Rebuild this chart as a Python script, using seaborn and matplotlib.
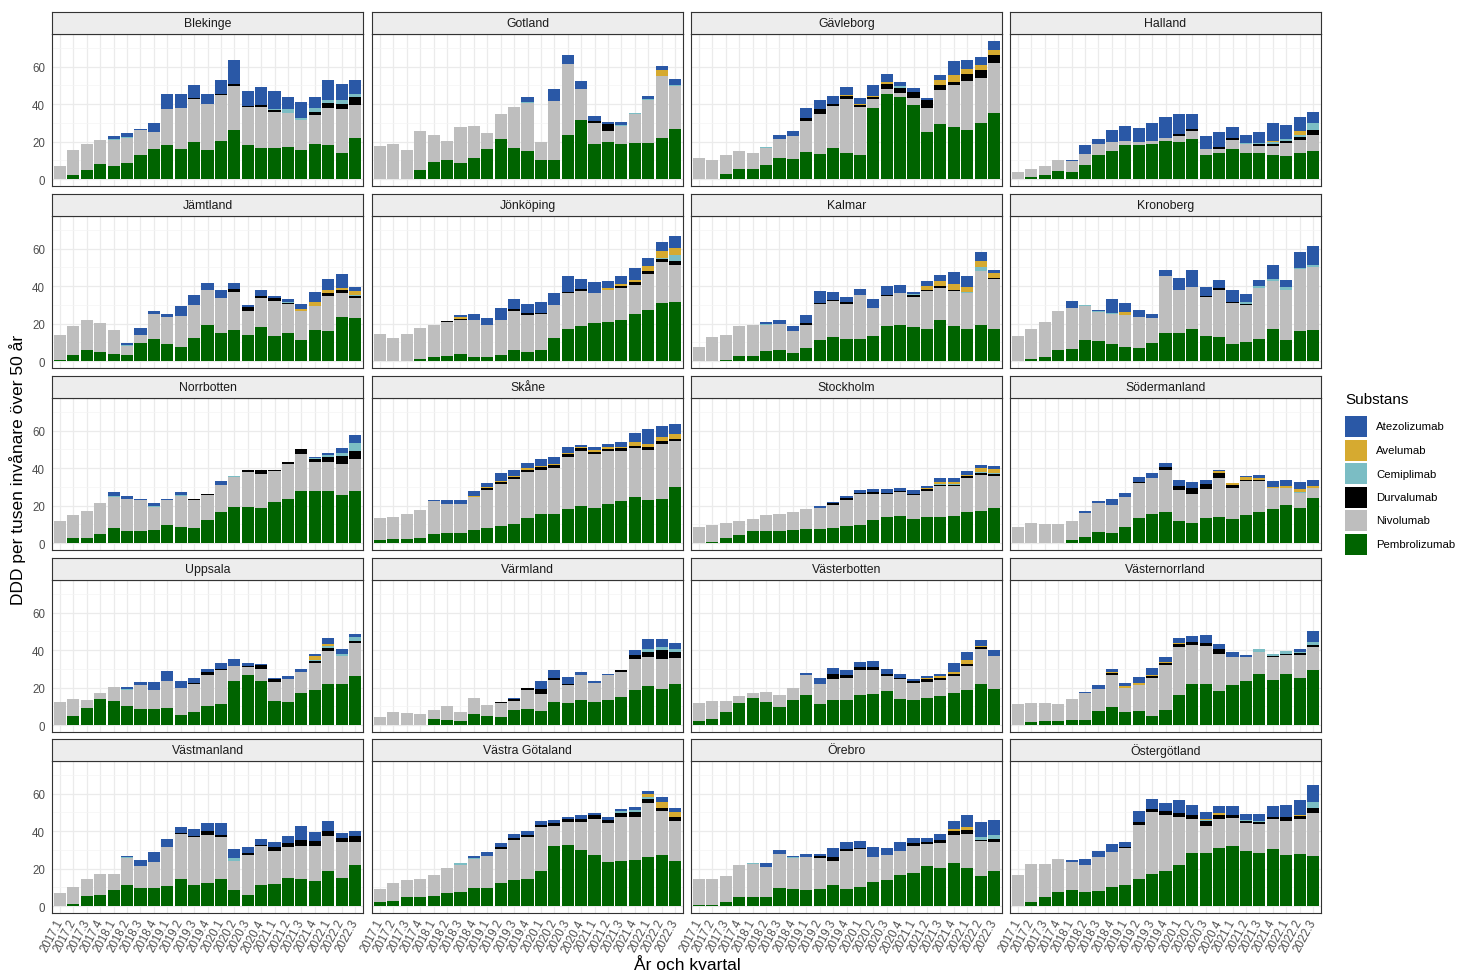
import numpy as np
import pandas as pd
import matplotlib
matplotlib.use("Agg")
import matplotlib.pyplot as plt
from matplotlib.patches import Rectangle
import seaborn as sns

# ---------------------------------------------------------------------------
# Data: DDD per 1000 inhabitants aged 50+, per quarter, region and substance
# ---------------------------------------------------------------------------
quarters = ["2017.1", "2017.2", "2017.3", "2017.4",
            "2018.1", "2018.2", "2018.3", "2018.4",
            "2019.1", "2019.2", "2019.3", "2019.4",
            "2020.1", "2020.2", "2020.3", "2020.4",
            "2021.1", "2021.2", "2021.3", "2021.4",
            "2022.1", "2022.2", "2022.3"]

regions = ["Blekinge", "Gotland", "Gävleborg", "Halland",
           "Jämtland", "Jönköping", "Kalmar", "Kronoberg",
           "Norrbotten", "Skåne", "Stockholm", "Södermanland",
           "Uppsala", "Värmland", "Västerbotten", "Västernorrland",
           "Västmanland", "Västra Götaland", "Örebro", "Östergötland"]

substances = ["Atezolizumab", "Avelumab", "Cemiplimab",
              "Durvalumab", "Nivolumab", "Pembrolizumab"]

colors = {"Atezolizumab": "#2A58A6", "Avelumab": "#D6AA30",
          "Cemiplimab": "#7BBDC4", "Durvalumab": "#000000",
          "Nivolumab": "#BEBEBE", "Pembrolizumab": "#006400"}

pembrolizumab = {
    "Blekinge": [0, 2, 5, 8, 7, 8.4, 13, 16, 18, 16, 19.7, 15.4, 20.6, 26, 18, 16.7, 16.7, 17, 15.4, 18.6, 18.3, 14, 21.7],
    "Gotland": [0, 0, 0, 5, 9.3, 10, 8.8, 11.1, 16, 21.5, 16.7, 15.2, 10.2, 10.2, 23.5, 31.4, 18.5, 20, 18.6, 19.2, 19.2, 22, 26.7],
    "Gävleborg": [0, 0.3, 2.9, 5.6, 5.6, 7.7, 11.3, 10.8, 14.7, 13.6, 16.7, 13.8, 13, 38, 45.7, 44, 39.4, 25.3, 29.2, 27.8, 26.2, 30, 35.3],
    "Halland": [0, 1.2, 2.3, 4.1, 4, 7.5, 13, 15, 18, 18.3, 18.8, 20.4, 19.7, 21.5, 13, 13.8, 16.1, 13.8, 14.2, 12.9, 12.4, 14.2, 15],
    "Jämtland": [0.7, 3.4, 6, 4.7, 4, 3, 9.5, 11.6, 9.3, 7.3, 12.5, 19.4, 15, 16.5, 13.8, 18.1, 13.3, 15.2, 11, 16.5, 16.1, 23.8, 23],
    "Jönköping": [0, 0, 0, 1, 2.3, 2.9, 4, 2.3, 2.3, 3.2, 5.9, 5, 5.9, 12.2, 17, 18.8, 20.3, 21, 21.9, 25.1, 27.2, 31, 31.4],
    "Kalmar": [0, 0, 0.7, 2.9, 2.9, 5.2, 6.1, 4.3, 7, 11, 13, 12, 12, 13.3, 18.8, 19.5, 18.1, 17.4, 21.7, 18.5, 17, 19.2, 17],
    "Kronoberg": [0, 1, 2, 5.7, 6.6, 11.3, 10.6, 9, 7.7, 7.2, 9.5, 15.2, 14.9, 17, 13.3, 13, 9.3, 10.4, 11.8, 17, 11.3, 16.1, 16.5],
    "Norrbotten": [0.3, 2.5, 2.5, 4.8, 7.9, 6.6, 6.6, 7, 9.5, 8.6, 7.9, 12.4, 16.5, 19.4, 19.4, 18.9, 21.9, 23.3, 27.8, 27.6, 28, 25.7, 28],
    "Skåne": [1.4, 2, 2, 2.9, 4.7, 5.4, 5.2, 7, 7.9, 9.2, 10.4, 13.5, 15.3, 15.6, 18, 19.7, 18.7, 20.8, 22.3, 24.8, 23.2, 23.7, 29.8],
    "Stockholm": [0, 0.5, 2.5, 4.3, 6.5, 6.5, 6.5, 7, 7.5, 7.7, 8.3, 9.2, 9.5, 12.4, 14.2, 14.7, 13.1, 14.2, 14, 14.4, 16.5, 17.4, 18.5],
    "Södermanland": [0, 0, 0, 0, 1.8, 3, 5.7, 5.2, 8.6, 13.3, 15.3, 16.7, 12, 10.8, 13.6, 14.2, 12.6, 15.1, 16.5, 18, 20.6, 19, 24.2],
    "Uppsala": [0, 4.7, 9, 14.2, 12.7, 10, 8.6, 8.8, 9.3, 5.4, 6.8, 10, 11, 23.3, 26.6, 23.3, 12.9, 12.4, 17, 18.9, 22, 22, 26.4],
    "Värmland": [0, 0, 0, 0.3, 3.2, 2.9, 2.3, 5.9, 5, 4.5, 8.1, 8.6, 7.5, 12.4, 11.7, 13.6, 12.4, 13.6, 14.9, 18.9, 20.8, 19.4, 22],
    "Västerbotten": [2, 3.4, 7.2, 11.8, 14.4, 12.2, 9.5, 13.6, 16.2, 11.5, 13.6, 13.6, 16.3, 16.7, 18, 14.2, 13.5, 14.5, 15.8, 17, 18.5, 22.1, 19.4],
    "Västernorrland": [0, 1.4, 2, 2, 2.7, 2.9, 7.5, 9.5, 7.2, 7.4, 4.8, 8.3, 16.2, 21.7, 21.7, 18, 21.4, 23.5, 27.5, 24.2, 27.5, 25.1, 29.6],
    "Västmanland": [0, 1.3, 5.4, 5.9, 8.4, 11.3, 9.5, 9.5, 10.9, 14.5, 11.3, 12.5, 14.5, 8.6, 5.9, 11.5, 11.8, 15.2, 14.3, 13.4, 18.8, 15.2, 21.9],
    "Västra Götaland": [2.3, 2.7, 4.7, 4.7, 5.4, 6.8, 7.5, 9.5, 9.9, 12.4, 13.8, 14.5, 18.5, 32.3, 32.8, 30.1, 27.4, 23.8, 24.2, 24.6, 26.3, 27.4, 24.2],
    "Örebro": [0.7, 0.7, 2, 4.7, 4.7, 4.7, 9.9, 9.3, 8.4, 9.3, 11.5, 9.3, 10.2, 12.7, 14, 16.7, 17.9, 21.5, 20.6, 22.8, 20.3, 16.1, 18.8],
    "Östergötland": [0, 2.3, 5, 7.5, 8.4, 7.5, 8.1, 10.2, 11.1, 14.3, 17.4, 18.5, 21.7, 28.3, 28.3, 31.2, 31.9, 29.2, 28.3, 30.5, 27.1, 27.8, 26.5],
}

nivolumab = {
    "Blekinge": [7, 13.4, 13.6, 13, 14, 13.6, 13, 9, 19.5, 22, 23.3, 24.6, 24.4, 23.6, 20.4, 22, 19.3, 18.5, 16.1, 15.4, 19.7, 23.5, 18.1],
    "Gotland": [17.7, 18.6, 15.4, 20.6, 14.2, 10.3, 18.8, 17.4, 8.7, 13.1, 22, 25.7, 9.8, 31.4, 38.1, 16.8, 11.5, 5.8, 9.5, 15.6, 22.9, 32.8, 22.8],
    "Gävleborg": [11, 9.9, 9.8, 9.4, 8.2, 9.1, 10.2, 12, 16.1, 21.4, 22.2, 28.8, 25.5, 4.8, 2.5, 2, 4.1, 12.7, 18.3, 22.4, 26.3, 24, 26.7],
    "Halland": [3.6, 4.4, 4.7, 6.1, 5.9, 5.9, 5.6, 5, 2.4, 1.7, 1.6, 1.3, 3.4, 4.1, 3.1, 2.2, 5, 5.2, 3.5, 4.8, 6.8, 6.6, 8.5],
    "Jämtland": [13.1, 15.2, 16, 15.6, 12.5, 5.2, 4.3, 13.3, 14.5, 16.9, 17.2, 18.4, 18.5, 20.4, 12.9, 15.8, 19, 15.1, 15.5, 12.9, 18.5, 12.4, 10.5],
    "Jönköping": [14.3, 12.5, 14.3, 16.6, 17.1, 18.1, 18.2, 19.9, 16.9, 19, 20.8, 19.6, 19, 17.5, 19.4, 18.7, 15.9, 17, 17, 15.6, 19.2, 21.7, 20],
    "Kalmar": [7.7, 12.9, 13.5, 15.9, 16.3, 14.3, 13.9, 11.7, 12.5, 19.3, 19, 18.6, 23.3, 15.2, 16.2, 16.7, 16.3, 20.1, 17.5, 19, 19.6, 29, 26.7],
    "Kronoberg": [13.3, 16.2, 18.8, 21.3, 21.5, 18.1, 15.6, 16.3, 16.7, 16.3, 13.5, 30.5, 23.1, 22.8, 21.1, 24.8, 21.9, 19.5, 27.4, 25.8, 26.7, 33, 33.7],
    "Norrbotten": [11.7, 12.5, 14.7, 16.7, 16.7, 17.1, 16.6, 12.2, 13.7, 16.4, 15.1, 13.1, 14.4, 15.8, 18.6, 18.1, 16.5, 18.7, 19.6, 15.7, 15.3, 16.7, 16.9],
    "Skåne": [11.9, 12.2, 13.4, 14.9, 17.9, 15.6, 15.8, 17.8, 20.6, 22.4, 23.7, 24.5, 23.7, 24.6, 28, 29.5, 28.7, 28.4, 26.9, 25.8, 26.5, 29.1, 24.8],
    "Stockholm": [8.4, 9, 8.1, 7.5, 6.6, 8.4, 8.8, 9.5, 10.6, 11.3, 12.3, 13.8, 16.5, 13.8, 12.2, 12.4, 12.6, 13.8, 16.5, 16.1, 18.1, 19, 17.4],
    "Södermanland": [8.6, 10.8, 10.4, 10.4, 10.2, 13.2, 15.5, 15.4, 16, 19, 19.5, 22.4, 16.2, 15.4, 15.3, 20.8, 17, 18.1, 16.4, 11.3, 9, 7.6, 5.1],
    "Uppsala": [12.4, 9.5, 4.6, 2.8, 7.6, 9, 12.8, 10.2, 14, 14.3, 15.3, 16.6, 18.3, 8.5, 4.5, 6.5, 9.9, 12, 11.4, 14.3, 17.7, 14.8, 17.6],
    "Värmland": [4.5, 7, 6.3, 5.8, 4.8, 7.1, 4.7, 8.5, 5.8, 7.2, 5, 10.4, 9.2, 11.5, 9.7, 13, 10.2, 13, 13.5, 16.3, 15.3, 16.1, 13.7],
    "Västerbotten": [9.7, 9.7, 5.9, 3.5, 2.6, 5.4, 6.5, 6.1, 10.4, 10.6, 10.8, 11.5, 13.3, 12.9, 8.2, 10.2, 8.9, 8.5, 8.1, 9.2, 13.1, 18.5, 17.4],
    "Västernorrland": [11, 10.3, 9.7, 9.1, 11.5, 14, 11.9, 17.1, 12.5, 13.8, 20.3, 23.7, 25.3, 21.2, 20.5, 20.2, 15, 12.9, 11.3, 11.9, 10, 12.6, 12.2],
    "Västmanland": [7.2, 9.1, 8.9, 11.1, 8.6, 14.3, 11.8, 14, 20.5, 24, 25.4, 25.7, 22.6, 15.6, 21.5, 20.4, 17.8, 16.2, 18, 18.9, 18.8, 18.8, 12.1],
    "Västra Götaland": [6.7, 9.7, 9.5, 9.8, 11.1, 13.3, 14.4, 15.9, 17, 18.2, 21.5, 22.6, 24, 10.7, 12.2, 14.7, 19.2, 20.6, 23.3, 22.9, 28.7, 23.3, 21.5],
    "Örebro": [13.6, 13.6, 13.9, 17, 17.7, 16.3, 17.9, 16.3, 17.9, 16.3, 12.7, 20.3, 20.3, 13.6, 13.4, 12.9, 14.4, 11.7, 12.9, 15.4, 18.2, 18.5, 15.4],
    "Östergötland": [16.7, 20.1, 17.4, 17.9, 15.4, 14.5, 18.2, 18.8, 19.9, 29.1, 32.6, 30.1, 25.8, 18.3, 14.7, 15.2, 15.2, 15.1, 15.4, 15.9, 18.1, 18.8, 23.1],
}

durvalumab = {
    "Blekinge": [0, 0, 0, 0, 0, 0, 0, 0, 0, 0, 0.5, 0, 0.6, 1, 0.9, 0.9, 1, 0, 0, 2, 2.5, 2.5, 4],
    "Gotland": [0, 0, 0, 0, 0, 0, 0, 0, 0, 0, 0, 0, 0, 0, 0, 0, 0.9, 3.4, 0, 0, 0, 0, 0],
    "Gävleborg": [0, 0, 0, 0, 0, 0, 0, 0, 1.8, 2.3, 1.4, 1.6, 0.9, 0.9, 2.5, 2.7, 3.2, 4, 3, 1.6, 3.8, 4, 4.5],
    "Halland": [0, 0, 0, 0, 0, 0, 0, 0, 0, 0, 0, 0.5, 1, 1.2, 0, 0.9, 0.7, 0, 1, 1.3, 1.4, 1.8, 2.9],
    "Jämtland": [0, 0, 0, 0, 0, 0, 0, 0, 0, 0, 0, 0, 0, 1.8, 2.1, 0.9, 1.3, 0.5, 0, 0, 1.8, 2, 1.2],
    "Jönköping": [0, 0, 0, 0, 0, 0.4, 0.4, 0, 0, 0, 0.9, 1.2, 0.7, 0.5, 0.7, 0.9, 0, 0, 1, 1.4, 1.8, 1.8, 2.3],
    "Kalmar": [0, 0, 0, 0, 0, 0, 0, 0, 0.7, 0.9, 0.7, 0.9, 0, 0, 0.5, 0, 0.9, 0.7, 0.9, 0.7, 0, 0, 0.5],
    "Kronoberg": [0, 0, 0, 0, 0, 0, 0, 0, 0, 0, 0, 0, 0, 0, 0.6, 1, 0.5, 0.7, 0, 0, 0, 0, 0],
    "Norrbotten": [0, 0, 0, 0, 0, 0, 0, 0, 0, 0, 0.4, 0.9, 0, 0, 1.3, 1.8, 0.7, 1.4, 2.7, 1.4, 2.9, 4.1, 4.5],
    "Skåne": [0, 0, 0, 0, 0, 0, 0, 0, 0.7, 1, 1, 1.2, 1.4, 1.4, 1.4, 1.4, 1.4, 1.2, 1.4, 1.4, 1.4, 1.6, 1.2],
    "Stockholm": [0, 0, 0, 0, 0, 0, 0, 0, 0, 0, 0.7, 1.2, 0.7, 0.9, 0.6, 0.6, 0.7, 0.7, 0.5, 0.5, 1, 1.2, 1.2],
    "Södermanland": [0, 0, 0, 0, 0, 0, 0, 0, 0, 0.5, 0, 1.3, 2.3, 3, 2.9, 2.3, 1.4, 0.7, 0.9, 0, 0, 0, 0],
    "Uppsala": [0, 0, 0, 0, 0, 0, 0, 0, 0, 0, 0.5, 1.8, 0.9, 0, 0.5, 2.2, 1.8, 0, 0, 1.2, 1.6, 0, 0.9],
    "Värmland": [0, 0, 0, 0, 0, 0, 0, 0, 0, 0.4, 1.1, 1, 2.5, 1.4, 0.7, 0, 0, 0.3, 0.9, 2, 3.2, 4.5, 3.2],
    "Västerbotten": [0, 0, 0, 0, 0, 0, 0, 0, 0, 0, 2.7, 1.8, 1.4, 1.4, 1.3, 0.9, 1.4, 1.4, 1.1, 0.9, 0.9, 1.3, 0],
    "Västernorrland": [0, 0, 0, 0, 0, 0, 0, 1, 0, 0, 0.9, 0.9, 1.8, 1.3, 1.4, 2.2, 0, 0, 0, 0.7, 0.7, 0.9, 0.9],
    "Västmanland": [0, 0, 0, 0, 0, 0, 0, 0, 0, 0.5, 0.7, 1.8, 1, 0, 0.7, 0.7, 2.2, 2.5, 3, 2.2, 2.7, 2.3, 3.2],
    "Västra Götaland": [0, 0, 0, 0, 0, 0, 0, 0, 0, 0.7, 1, 1, 1, 1.3, 1.4, 1.8, 1.8, 1.6, 2.3, 2.7, 2, 1.8, 1.8],
    "Örebro": [0, 0, 0, 0, 0, 0, 0, 0, 0, 0.9, 1.8, 0.9, 0.7, 0, 0, 0, 1.4, 1, 2, 1.8, 2.3, 0.9, 1.6],
    "Östergötland": [0, 0, 0, 0, 0, 0, 0, 0, 0.7, 1.4, 2, 2.2, 2.2, 2.2, 2.7, 2.3, 1.6, 1.4, 1.1, 1.1, 2.2, 1.4, 3],
}

cemiplimab = {
    "Blekinge": [0, 0, 0, 0, 0.5, 0.3, 0, 0, 0, 0, 0, 0, 0, 0, 0, 0, 0.5, 1.8, 1, 1.8, 1.8, 2, 1.5],
    "Gotland": [0, 0, 0, 0, 0, 0, 0, 0, 0, 0, 0, 0.3, 0, 0, 0, 0, 0, 0, 1, 0.6, 0.7, 0.5, 1],
    "Gävleborg": [0, 0, 0, 0, 0, 0.4, 0, 0, 0, 0, 0, 0, 0, 0, 0, 0.9, 0, 0, 0, 0, 0, 0, 0],
    "Halland": [0, 0, 0, 0, 0, 0, 0, 0, 0, 0, 0, 0, 0, 0, 0, 0, 0, 0.5, 0.7, 0.9, 0.9, 0.7, 3.6],
    "Jämtland": [0, 0, 0, 0, 0, 0.5, 0, 0, 0, 0, 0, 0, 0, 0, 0, 0, 0, 0.5, 0, 0, 0, 0, 0.5],
    "Jönköping": [0, 0, 0, 0, 0, 0, 0, 0, 0, 0, 0, 0, 0, 0, 0, 0, 0, 0, 0, 0, 0, 0.5, 2.9],
    "Kalmar": [0, 0, 0, 0, 0, 0.4, 0, 0, 0, 0, 0, 0, 0, 0, 0, 0, 0.5, 0, 0, 0, 0.5, 2.2, 0.4],
    "Kronoberg": [0, 0, 0, 0, 0.5, 0.4, 0.3, 0.5, 0, 0, 0, 0, 0, 0, 0, 0, 0, 1.2, 0.9, 0.9, 1.6, 0.5, 0.9],
    "Norrbotten": [0, 0, 0, 0, 0.5, 0, 0, 0.7, 0, 0.9, 0, 0, 0, 0.4, 0, 0, 0, 0, 0, 0.5, 1, 1.8, 4],
    "Stockholm": [0, 0, 0, 0, 0, 0, 0, 0, 0, 0, 0, 0, 0, 0, 0, 0, 0, 0, 0.3, 0.3, 0, 0.5, 0.5],
    "Södermanland": [0, 0, 0, 0, 0, 0, 0, 0, 0, 0, 0, 0, 0, 0, 0, 0, 0, 0, 0, 0, 0, 0.5, 0],
    "Uppsala": [0, 0, 0, 0, 0, 0.3, 0, 0, 0, 0, 0, 0, 0, 0, 0, 0, 0, 0, 0, 0.4, 0.7, 1.4, 2],
    "Värmland": [0, 0, 0, 0, 0, 0, 0, 0, 0, 0, 0, 0, 0, 0, 0, 0, 0, 0, 0, 0, 1.2, 1.8, 1.6],
    "Västerbotten": [0, 0, 0, 0, 0, 0.3, 0.3, 0.3, 0, 0, 0, 0, 0, 0, 0, 0, 0, 0, 0, 0, 0, 0, 0],
    "Västernorrland": [0, 0, 0, 0, 0, 0, 0, 0, 0, 0, 0, 0, 0, 0, 0, 0, 0, 0, 2, 1.4, 1.2, 0.5, 1.8],
    "Västmanland": [0, 0, 0, 0, 0, 0.4, 0, 0.3, 0, 0, 0, 0, 0, 1.4, 0, 0, 0, 0, 0, 0, 0, 0, 0],
    "Västra Götaland": [0, 0, 0, 0, 0, 0.4, 0.9, 0.5, 0, 0, 0, 0, 0, 0, 0, 0, 0, 0, 0.9, 0.9, 1.2, 0, 0],
    "Örebro": [0, 0, 0, 0, 0.4, 0, 0, 0.7, 0, 0, 0, 0, 0, 0, 0, 0, 0, 0, 0, 0, 0, 1.2, 2.3],
    "Östergötland": [0, 0, 0, 0, 0, 0, 0, 0, 0, 0, 0, 0, 0, 0, 0.5, 0, 0, 0.5, 0.5, 0, 0, 0, 2.9],
}

avelumab = {
    "Gotland": [0, 0, 0, 0, 0, 0, 0, 0, 0, 0, 0, 0, 0, 0, 0, 0, 0, 0, 0, 0, 0, 3.2, 0],
    "Gävleborg": [0, 0, 0, 0, 0, 0, 0, 0, 0, 0, 0, 0.7, 0.7, 0.9, 1, 0, 0, 0.4, 2.3, 3.6, 2.5, 2.7, 2.5],
    "Halland": [0, 0, 0, 0, 0, 0, 0, 0, 0, 0, 0, 0, 0, 0, 0, 0, 0, 0, 0, 0.5, 0, 2.3, 0],
    "Jämtland": [0, 0, 0, 0, 0, 0, 0, 0, 0, 0, 0, 0, 0, 0, 0, 0, 0, 0.5, 1.5, 2.2, 1.8, 1, 2.3],
    "Jönköping": [0, 0, 0, 0, 0, 0, 0.9, 0, 0, 0, 0, 0, 0, 0, 0, 0, 0, 1, 1.4, 1, 2.5, 3.8, 3.8],
    "Kalmar": [0, 0, 0, 0, 0, 0, 0, 0, 0, 0, 0, 0, 0, 0, 0, 0, 0, 2, 2.7, 3.2, 2.7, 2.9, 2.2],
    "Kronoberg": [0, 0, 0, 0, 0, 0, 0, 0, 1.8, 0, 0, 0, 0, 0, 0, 0, 0, 0, 0, 0, 0, 0, 0],
    "Skåne": [0, 0, 0, 0, 0, 0, 0, 0.5, 0.5, 0.5, 0.7, 0.7, 0.9, 0.9, 0.9, 0.7, 0.7, 0.7, 0.9, 1.8, 1.8, 2.3, 2.7],
    "Stockholm": [0, 0, 0, 0, 0, 0, 0, 0, 0, 0, 0, 0, 0, 0, 0, 0, 0, 0.7, 1.2, 1.2, 0.7, 2, 2],
    "Södermanland": [0, 0, 0, 0, 0, 0, 0, 0, 0, 0, 0, 0, 0, 0, 0, 1.4, 1, 1.4, 1.2, 0.4, 0.9, 1.8, 1.2],
    "Uppsala": [0, 0, 0, 0, 0, 0, 0, 0, 0, 0, 0, 0, 0, 0, 0, 0, 0, 0, 0, 2, 1.4, 0, 0],
    "Västerbotten": [0, 0, 0, 0, 0, 0, 0, 0, 0, 0, 0, 0, 0, 0, 0, 0, 0, 0.9, 1.2, 1.2, 2.2, 0.5, 0],
    "Västernorrland": [0, 0, 0, 0, 0, 0, 0, 1, 1, 1.4, 0.9, 0.9, 0.7, 0, 0.5, 0, 0, 0, 0, 0, 0, 0, 0],
    "Västra Götaland": [0, 0, 0, 0, 0, 0, 0, 0, 0, 0, 0, 0, 0, 0, 0, 0, 0, 0, 0, 0, 1.5, 3, 2.7],
    "Örebro": [0, 0, 0, 0, 0, 0, 0, 0, 0, 0, 0, 0, 0, 0, 0, 0, 0, 0, 0, 1.4, 1.2, 0, 0],
    "Östergötland": [0, 0, 0, 0, 0, 0, 0, 0, 0, 0, 0, 0, 0, 0, 0.5, 0.9, 0, 0, 0, 0, 0, 0.5, 0],
}

atezolizumab = {
    "Blekinge": [0, 0, 0, 0, 1.5, 2.1, 1, 5, 8, 7.5, 6.5, 5.5, 7.1, 12.8, 7.7, 9.4, 9.5, 6.7, 8.5, 6.2, 10.4, 8.7, 7.7],
    "Gotland": [0, 0, 0, 0, 0, 0, 0, 0, 0, 0, 0, 2.5, 0, 6.4, 4.7, 4.3, 3, 1.1, 1.4, 0, 1.5, 2.1, 3.1],
    "Gävleborg": [0, 0, 0, 0, 0, 0, 2.2, 3, 5.4, 5.2, 4.3, 4.1, 3.1, 5.9, 4.3, 2.2, 1.9, 0.8, 2.6, 7.6, 4.6, 4.7, 4.8],
    "Halland": [0, 0, 0, 0, 0.5, 4.9, 2.9, 6.3, 8.1, 7.2, 9.3, 11.1, 10.7, 7.8, 6.9, 8.1, 6, 4, 5.6, 9.6, 7.5, 7.4, 5.7],
    "Jämtland": [0, 0, 0, 0, 0, 0.8, 3.8, 2.1, 1.6, 5, 5.6, 3.8, 4.5, 3.1, 0.9, 3.2, 1.4, 1.4, 2.3, 5.4, 5.8, 7.2, 2.3],
    "Jönköping": [0, 0, 0, 0, 0, 0, 0.9, 3.2, 3.8, 5.9, 5.4, 4.8, 5.8, 6, 8.6, 5.6, 6.1, 3.6, 4, 6.7, 4.3, 4.6, 6.4],
    "Kalmar": [0, 0, 0, 0, 0, 1.2, 1.7, 2.8, 4.2, 6.3, 4, 2.7, 3.1, 4.5, 4.8, 4.3, 1.1, 2.6, 3.2, 6.2, 5.4, 5.1, 1.6],
    "Kronoberg": [0, 0, 0, 0, 3.4, 0.2, 0.7, 7.2, 4.8, 3.9, 1.9, 3.2, 6.4, 8.9, 4.4, 4.4, 6.5, 4.2, 3.4, 7.5, 3.6, 8.8, 10.5],
    "Norrbotten": [0, 0, 0, 0, 2, 1.6, 0.5, 1.3, 0.5, 1.6, 0, 0, 2, 0, 0, 0.5, 0, 0, 0, 0.8, 1.1, 2.5, 4.2],
    "Skåne": [0, 0, 0, 0, 0.4, 2, 2, 2.5, 2.6, 4.2, 3, 2.8, 3.7, 3.6, 2.9, 1.1, 2, 1.9, 2.7, 5.1, 8.1, 5.8, 5.1],
    "Stockholm": [0, 0, 0, 0, 0, 0, 0, 0, 0, 0.9, 0.8, 1.1, 1.8, 1.8, 1.9, 1.7, 2, 1.3, 2, 2, 2.2, 1.6, 1.7],
    "Södermanland": [0, 0, 0, 0, 0, 0.7, 1.2, 2.9, 2, 2.4, 2.7, 2.5, 3.4, 3.3, 2.1, 0.4, 0.3, 0.3, 1.4, 3.2, 3.3, 3.6, 3.4],
    "Uppsala": [0, 0, 0, 0, 0, 1, 1.6, 4, 5.6, 4, 2.5, 1.8, 2.8, 3.6, 1.6, 0.5, 0.7, 1.8, 1.6, 1.1, 2.9, 2.6, 1.9],
    "Värmland": [0, 0, 0, 0, 0, 0, 0, 0, 0, 0, 0.5, 0, 4.3, 4, 3.4, 1.8, 0.7, 0.6, 0, 2.8, 5.5, 4, 3.5],
    "Västerbotten": [0, 0, 0, 0, 0, 0, 0, 0, 1.2, 3, 3.4, 2.4, 2.8, 3.1, 2.3, 2.2, 1, 0.9, 1.3, 4.6, 4.4, 3, 3.4],
    "Västernorrland": [0, 0, 0, 0, 0, 0.7, 2, 1.2, 1.9, 2.9, 3.4, 2.6, 2.3, 3.6, 4, 2.9, 2.7, 1.1, 0, 0, 0, 1.7, 5.9],
    "Västmanland": [0, 0, 0, 0, 0, 0.5, 3.1, 4.9, 4.4, 3.1, 3.8, 4.4, 6.2, 4.9, 3.4, 3.1, 2.6, 3.7, 7.7, 4.9, 5, 2.6, 3.1],
    "Västra Götaland": [0, 0, 0, 0, 0, 0, 0, 0.8, 1.8, 2.2, 2.2, 2, 2.2, 1.7, 1.1, 1.8, 1.2, 1.8, 1.3, 1.8, 1.8, 2.5, 2.3],
    "Örebro": [0, 0, 0, 0, 0, 1.9, 2.3, 0.4, 1.3, 1.3, 5.2, 3.5, 3.6, 5.1, 3.6, 4.6, 2.7, 2, 3, 3.8, 6.9, 8.1, 8.1],
    "Östergötland": [0, 0, 0, 0, 0.6, 3.4, 3.3, 4, 2.7, 5.9, 5.2, 4, 7.1, 5.2, 3.3, 3.8, 4.7, 3.1, 4.1, 5.9, 6.5, 8.4, 9.4],
}

series = {"Atezolizumab": atezolizumab, "Avelumab": avelumab,
          "Cemiplimab": cemiplimab, "Durvalumab": durvalumab,
          "Nivolumab": nivolumab, "Pembrolizumab": pembrolizumab}

# Long-format table
records = []
for sub, table in series.items():
    for reg in regions:
        vals = table.get(reg, [0.0] * len(quarters))
        for q, v in zip(quarters, vals):
            records.append((reg, q, sub, float(v)))
df = pd.DataFrame(records, columns=["Region", "Kvartal", "Substans", "DDD"])

# ---------------------------------------------------------------------------
# Figure
# ---------------------------------------------------------------------------
sns.set_theme(style="white")
plt.rcParams["font.family"] = ["Liberation Sans", "DejaVu Sans"]

W, H = 1460, 978
fig = plt.figure(figsize=(W / 100, H / 100), dpi=100)
fig.patch.set_facecolor("white")


def px_rect(x0, top, w, h):
    return [x0 / W, 1 - (top + h) / H, w / W, h / H]


col_left = [52, 372, 691, 1010]
row_top = [35, 217, 399, 581, 762]
panel_w, panel_h, strip_h = 311, 152, 22

totals = df.groupby(["Region", "Kvartal"])["DDD"].sum()
ymax = totals.max()
ylim = (-0.05 * ymax, 1.05 * ymax)

stack_order = substances[::-1]  # Pembrolizumab at the bottom

for i, reg in enumerate(regions):
    r, c = divmod(i, 4)
    ax = fig.add_axes(px_rect(col_left[c], row_top[r], panel_w, panel_h))
    sub = df[df["Region"] == reg]
    base = np.zeros(len(quarters))
    for s in stack_order:
        vals = (sub[sub["Substans"] == s].set_index("Kvartal")
                .loc[quarters, "DDD"].to_numpy())
        sns.barplot(x=quarters, y=vals, order=quarters, color=colors[s],
                    saturation=1, width=0.9, bottom=base.copy(), linewidth=0,
                    errorbar=None, ax=ax)
        base = base + vals

    ax.set_xlim(-0.6, len(quarters) - 0.4)
    ax.set_ylim(*ylim)
    ax.set_xticks(range(len(quarters)))
    ax.set_yticks([0, 20, 40, 60])
    ax.set_yticks([10, 30, 50, 70], minor=True)
    ax.set_axisbelow(True)
    ax.grid(True, which="major", color="#EBEBEB", linewidth=0.9)
    ax.grid(True, which="minor", axis="y", color="#F4F4F4", linewidth=0.5)
    ax.set_xlabel("")
    ax.set_ylabel("")
    for sp in ax.spines.values():
        sp.set_visible(True)
        sp.set_color("#333333")
        sp.set_linewidth(0.8)
    ax.tick_params(which="minor", length=0)
    ax.tick_params(axis="both", which="major", length=3, width=0.7,
                   color="#333333", labelsize=8.3, labelcolor="#4D4D4D", pad=2)
    if c == 0:
        ax.set_yticklabels(["0", "20", "40", "60"])
    else:
        ax.tick_params(axis="y", length=0, labelleft=False)
    if r == 4:
        ax.set_xticklabels(quarters, rotation=62, ha="right", va="center",
                           rotation_mode="anchor")
    else:
        ax.tick_params(axis="x", length=0, labelbottom=False)

    # facet strip
    sax = fig.add_axes(px_rect(col_left[c], row_top[r] - strip_h, panel_w, strip_h))
    sax.set_facecolor("#EDEDED")
    sax.set_xticks([])
    sax.set_yticks([])
    for sp in sax.spines.values():
        sp.set_visible(True)
        sp.set_color("#333333")
        sp.set_linewidth(0.8)
    sax.text(0.5, 0.5, reg, ha="center", va="center", fontsize=8.8,
             color="#1A1A1A", transform=sax.transAxes)

# axis titles
fig.text(18 / W, 1 - 470 / H, "DDD per tusen invånare över 50 år",
         rotation=90, ha="center", va="center", fontsize=12.5, color="black")
fig.text(687 / W, 1 - 966 / H, "År och kvartal",
         ha="center", va="center", fontsize=12.5, color="black")

# legend
fig.text(1345 / W, 1 - 400 / H, "Substans", ha="left", va="center",
         fontsize=11, color="black")
for k, s in enumerate(substances):
    top = 417 + k * 23.5
    fig.patches.append(Rectangle((1345 / W, 1 - (top + 21) / H), 22 / W, 21 / H,
                                 transform=fig.transFigure, facecolor=colors[s],
                                 edgecolor="none"))
    fig.text(1376 / W, 1 - (top + 10.5) / H, s, ha="left", va="center",
             fontsize=8.2, color="black")

fig.savefig("out.png", dpi=100, facecolor="white")
